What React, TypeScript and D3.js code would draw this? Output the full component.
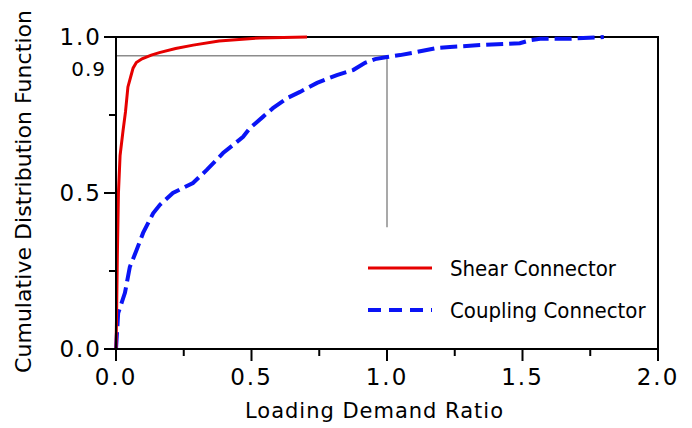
import * as d3 from "d3";
import { useEffect, useRef } from "react";

// Shear connector CDF (loading demand ratio, cumulative probability)
const shearX = [0, 0.002, 0.005, 0.009, 0.015, 0.026, 0.035, 0.044, 0.055, 0.063, 0.075, 0.096, 0.13, 0.16, 0.22, 0.285, 0.38, 0.53, 0.705];
const shearY = [0, 0.1, 0.3, 0.5, 0.62, 0.7, 0.76, 0.84, 0.875, 0.9, 0.918, 0.93, 0.942, 0.95, 0.963, 0.974, 0.987, 0.997, 1.0];

// Coupling connector CDF
const couplingX = [0, 0.008, 0.033, 0.051, 0.076, 0.1, 0.137, 0.162, 0.21, 0.284, 0.335, 0.395, 0.469, 0.494, 0.542, 0.579, 0.631, 0.679, 0.742, 0.815, 0.875, 0.919, 0.956, 1.0, 1.048, 1.11, 1.185, 1.232, 1.343, 1.49, 1.53, 1.565, 1.66, 1.69, 1.8];
const couplingY = [0, 0.115, 0.18, 0.263, 0.317, 0.372, 0.435, 0.462, 0.5, 0.532, 0.574, 0.628, 0.68, 0.708, 0.744, 0.772, 0.804, 0.824, 0.853, 0.878, 0.894, 0.917, 0.929, 0.936, 0.942, 0.952, 0.965, 0.968, 0.974, 0.98, 0.99, 0.994, 0.994, 0.995, 1.0];

const xTicks = [0, 0.5, 1.0, 1.5, 2.0];
const xMinor = [0.25, 0.75, 1.25, 1.75];
const yTicks = [0, 0.5, 1.0];
const yMinor = [0.25, 0.75];
const refLevel = 0.94; // guide line level
const refRatio = 1.0;
const refBottom = 0.39;

const seriesNames = ["Shear Connector", "Coupling Connector"];

function App() {
    const svgRef = useRef(null);

    useEffect(() => {
        const svg = d3.select(svgRef.current);
        svg.selectAll("*").remove();

        const width = 692;
        const height = 428;
        const margin = { top: 37, right: 34, bottom: 79, left: 116 };

        const x = d3.scaleLinear().domain([0, 2]).range([margin.left, width - margin.right]);
        const y = d3.scaleLinear().domain([0, 1]).range([height - margin.bottom, margin.top]);

        const numFont = "DejaVu Sans, Verdana, sans-serif";

        // guide lines (drawn under the curves)
        svg.append("line")
            .attr("x1", x(0)).attr("x2", x(refRatio))
            .attr("y1", y(refLevel)).attr("y2", y(refLevel))
            .attr("stroke", "#8c8c8c").attr("stroke-width", 1.5);
        svg.append("line")
            .attr("x1", x(refRatio)).attr("x2", x(refRatio))
            .attr("y1", y(refLevel)).attr("y2", y(refBottom))
            .attr("stroke", "#8c8c8c").attr("stroke-width", 1.5);

        // frame
        svg.append("path")
            .attr("d", `M${x(0)},${y(1)}H${x(2)}V${y(0)}`)
            .attr("fill", "none").attr("stroke", "#000").attr("stroke-width", 2);

        const line = d3.line().x(d => x(d[0])).y(d => y(d[1]));

        const coupling = couplingX.map((v, i) => [v, couplingY[i]]);
        const shear = shearX.map((v, i) => [v, shearY[i]]);

        svg.append("path")
            .datum(coupling)
            .attr("d", line)
            .attr("fill", "none")
            .attr("stroke", "#0a14f5")
            .attr("stroke-width", 4)
            .attr("stroke-dasharray", "17,6");

        svg.append("path")
            .datum(shear)
            .attr("d", line)
            .attr("fill", "none")
            .attr("stroke", "#e60000")
            .attr("stroke-width", 3);

        // x axis
        const xAxis = svg.append("g").attr("transform", `translate(0,${y(0)})`);
        xAxis.append("line").attr("x1", x(0)).attr("x2", x(2)).attr("stroke", "#000").attr("stroke-width", 2);
        xAxis.selectAll(".maj").data(xTicks).enter().append("line")
            .attr("x1", d => x(d)).attr("x2", d => x(d)).attr("y1", 0).attr("y2", 12)
            .attr("stroke", "#000").attr("stroke-width", 2);
        xAxis.selectAll(".min").data(xMinor).enter().append("line")
            .attr("x1", d => x(d)).attr("x2", d => x(d)).attr("y1", 0).attr("y2", 7)
            .attr("stroke", "#000").attr("stroke-width", 2);
        xAxis.selectAll("text").data(xTicks).enter().append("text")
            .attr("x", d => x(d)).attr("y", 36)
            .attr("text-anchor", "middle")
            .style("font-family", numFont).style("font-size", "23px").style("letter-spacing", "2px")
            .text(d => d.toFixed(1));

        // y axis
        const yAxis = svg.append("g").attr("transform", `translate(${x(0)},0)`);
        yAxis.append("line").attr("y1", y(0)).attr("y2", y(1)).attr("stroke", "#000").attr("stroke-width", 2);
        yAxis.selectAll(".maj").data(yTicks).enter().append("line")
            .attr("y1", d => y(d)).attr("y2", d => y(d)).attr("x1", -12).attr("x2", 0)
            .attr("stroke", "#000").attr("stroke-width", 2);
        yAxis.selectAll(".min").data(yMinor).enter().append("line")
            .attr("y1", d => y(d)).attr("y2", d => y(d)).attr("x1", -7).attr("x2", 0)
            .attr("stroke", "#000").attr("stroke-width", 2);
        yAxis.selectAll("text").data(yTicks).enter().append("text")
            .attr("x", -14).attr("y", d => y(d) + 8)
            .attr("text-anchor", "end")
            .style("font-family", numFont).style("font-size", "23px").style("letter-spacing", "2px")
            .text(d => d.toFixed(1));
        yAxis.append("text")
            .attr("x", -10).attr("y", y(0.9) + 8)
            .attr("text-anchor", "end")
            .style("font-family", numFont).style("font-size", "20px").style("letter-spacing", "1px")
            .text("0.9");

        // axis titles
        svg.append("text")
            .attr("x", (245 + 503) / 2).attr("y", 418)
            .attr("text-anchor", "middle")
            .attr("textLength", 258).attr("lengthAdjust", "spacing")
            .style("font-family", numFont).style("font-size", "21px")
            .text("Loading Demand Ratio");
        svg.append("text")
            .attr("transform", "rotate(-90)")
            .attr("x", -(10 + 373) / 2).attr("y", 31)
            .attr("text-anchor", "middle")
            .attr("textLength", 363).attr("lengthAdjust", "spacing")
            .style("font-family", numFont).style("font-size", "22px")
            .text("Cumulative Distribution Function");

        // legend
        const legendFont = "Liberation Sans Narrow, DejaVu Sans Condensed, sans-serif";
        const legend = svg.append("g").attr("transform", "translate(368,268)");
        legend.append("line").attr("x1", 0).attr("x2", 64).attr("y1", 0).attr("y2", 0)
            .attr("stroke", "#e60000").attr("stroke-width", 3);
        legend.append("line").attr("x1", 0).attr("x2", 64).attr("y1", 42).attr("y2", 42)
            .attr("stroke", "#0a14f5").attr("stroke-width", 4).attr("stroke-dasharray", "13,8");
        legend.selectAll("text").data(seriesNames).enter().append("text")
            .attr("x", 82).attr("y", (d, i) => i * 42 + 8)
            .style("font-family", legendFont).style("font-size", "22px")
            .text(d => d);
    }, []);

    return (
        <svg ref={svgRef} width={692} height={428}
            style={{ position: "absolute", left: 0, top: 0, background: "#fff" }} />
    );
}

export default App;
